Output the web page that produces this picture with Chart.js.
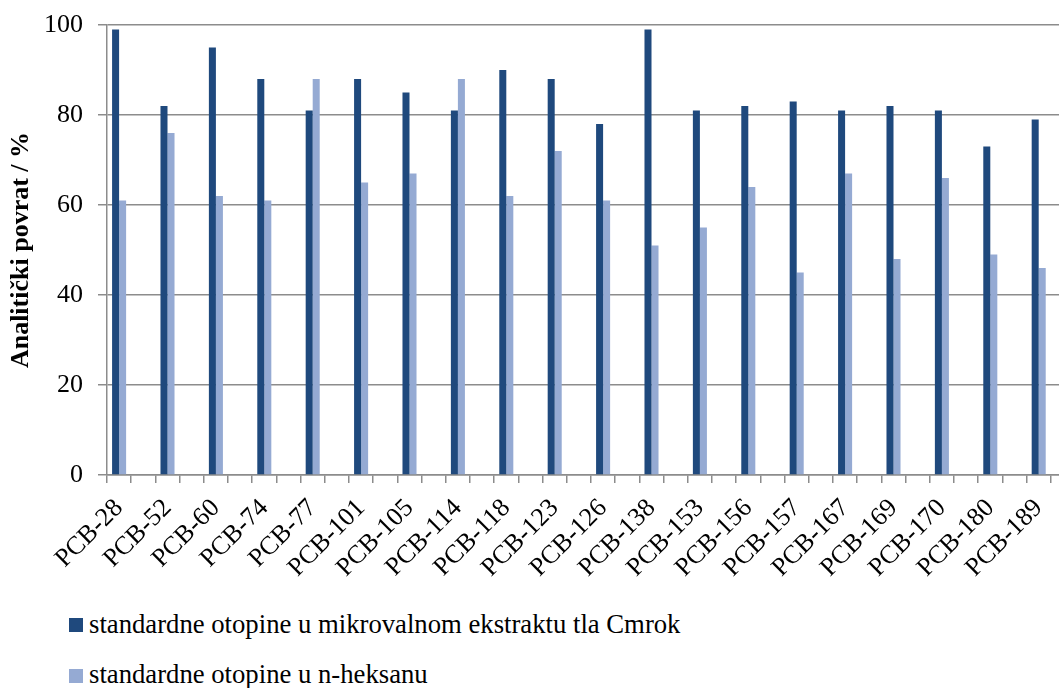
<!DOCTYPE html>
<html>
<head>
<meta charset="utf-8">
<script src="https://cdn.jsdelivr.net/npm/chart.js@4/dist/chart.umd.min.js"></script>
<style>
  html, body { margin: 0; padding: 0; background: #fff; }
  #wrap { position: relative; width: 1059px; height: 688px; overflow: hidden; }
  #box { position: absolute; left: 0; top: 0; width: 1085px; height: 600px; }
  .leg { position: absolute; left: 89px; font-family: "Liberation Serif", "Times New Roman", serif; font-size: 26.7px; line-height: 30px; color: #000; white-space: nowrap; }
  .sw { position: absolute; left: 69px; width: 14px; height: 14px; }
</style>
</head>
<body>
<div id="wrap">
  <div id="box"><canvas id="recoveryChart"></canvas></div>
  <div class="sw" id="sw1" style="top: 618px;"></div>
  <div class="leg" id="leg1" style="top: 609px;"></div>
  <div class="sw" id="sw2" style="top: 669px;"></div>
  <div class="leg" id="leg2" style="top: 659px;"></div>
</div>
<script>
// --- Data ---
const categories = ["PCB-28", "PCB-52", "PCB-60", "PCB-74", "PCB-77", "PCB-101", "PCB-105", "PCB-114", "PCB-118", "PCB-123",
  "PCB-126", "PCB-138", "PCB-153", "PCB-156", "PCB-157", "PCB-167", "PCB-169", "PCB-170", "PCB-180", "PCB-189"];
const extractValues = [99, 82, 95, 88, 81, 88, 85, 81, 90, 88, 78, 99, 81, 82, 83, 81, 82, 81, 73, 79];
const hexaneValues = [61, 76, 62, 61, 88, 65, 67, 88, 62, 72, 61, 51, 55, 64, 45, 67, 48, 66, 49, 46];
const yTicks = [0, 20, 40, 60, 80, 100];
const seriesNames = ["standardne otopine u mikrovalnom ekstraktu tla Cmrok", "standardne otopine u n-heksanu"];
const colors = ["#1F497D", "#95AAD3"];

// every category is followed by an empty slot, as in the original sheet
const slotLabels = categories.flatMap(c => [c, ""]);
const spread = vals => vals.flatMap(v => [v, null]);

const font = "'Liberation Serif', 'Times New Roman', serif";
const gridColor = "#8c8c8c";

// --- Legend (HTML) ---
seriesNames.forEach((name, i) => {
  document.getElementById("sw" + (i + 1)).style.background = colors[i];
  document.getElementById("leg" + (i + 1)).textContent = name;
});

// --- Chart ---
const ctx = document.getElementById("recoveryChart").getContext("2d");
new Chart(ctx, {
  type: "bar",
  data: {
    labels: slotLabels,
    datasets: [
      { label: seriesNames[0], data: spread(extractValues), backgroundColor: colors[0] },
      { label: seriesNames[1], data: spread(hexaneValues), backgroundColor: colors[1] }
    ]
  },
  options: {
    responsive: true,
    maintainAspectRatio: false,
    animation: false,
    layout: { padding: { top: 25, right: 10, bottom: 0, left: 0 } },
    datasets: { bar: { categoryPercentage: 0.58, barPercentage: 1, borderWidth: 0 } },
    plugins: { legend: { display: false }, tooltip: { enabled: false } },
    scales: {
      x: {
        offset: true,
        afterFit: (s) => { s.height = 125; s.paddingLeft = 0; s.paddingRight = 0; },
        grid: { offset: true, drawOnChartArea: false, color: gridColor, lineWidth: 1.5, tickLength: 8 },
        border: { color: gridColor, width: 1.5 },
        ticks: {
          autoSkip: false, maxRotation: 45, minRotation: 45, padding: 10,
          color: "#000", font: { family: font, size: 26 }
        }
      },
      y: {
        min: 0, max: 100,
        afterFit: (s) => { s.width = 107; s.paddingTop = 0; s.paddingBottom = 0; },
        afterBuildTicks: (s) => { s.ticks = yTicks.map(v => ({ value: v })); },
        grid: { color: gridColor, lineWidth: 1.5, tickLength: 9 },
        border: { color: gridColor, width: 1.5 },
        ticks: { padding: 15, color: "#000", font: { family: font, size: 26 } },
        title: {
          display: true, text: "Analitički povrat / %", color: "#000",
          padding: { top: 6, bottom: 0 },
          font: { family: font, size: 26, weight: "bold" }
        }
      }
    }
  }
});
</script>
</body>
</html>
